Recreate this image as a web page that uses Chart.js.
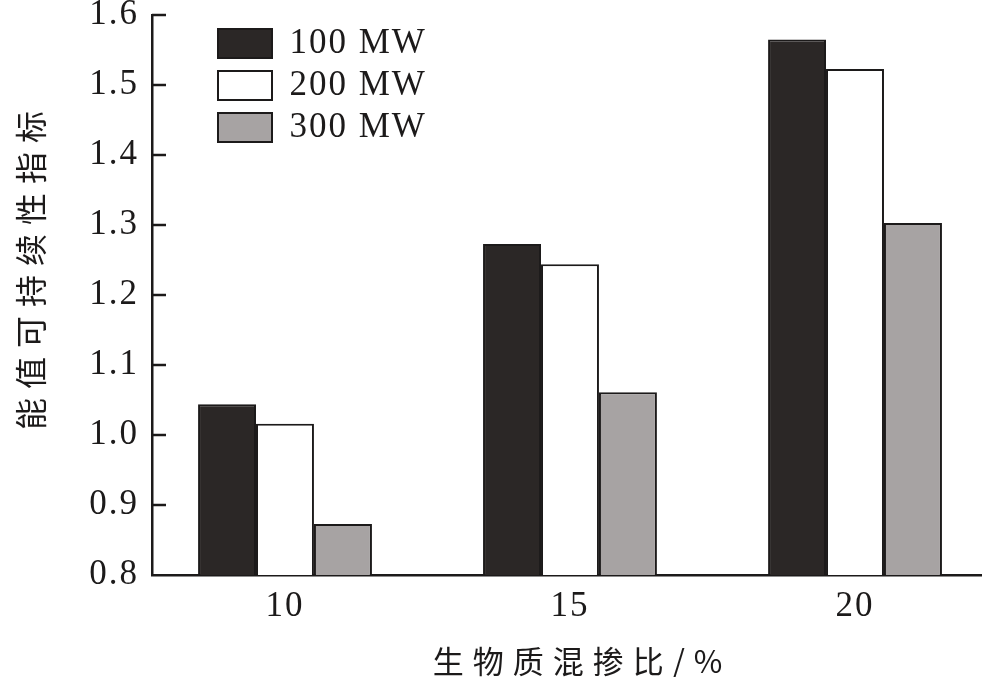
<!DOCTYPE html>
<html>
<head>
<meta charset="utf-8">
<script src="https://cdn.jsdelivr.net/npm/chart.js@4.4.1/dist/chart.umd.min.js"></script>
<style>
html,body{margin:0;padding:0;background:#fff;}
#wrap{width:982px;height:677px;}
</style>
</head>
<body>
<div id="wrap"><canvas id="c" width="982" height="677"></canvas></div>
<script>
// ---- data ----
const categories = [10, 15, 20];
const seriesLabels = ['100 MW', '200 MW', '300 MW'];
const mw100 = [1.044, 1.273, 1.565];
const mw200 = [1.016, 1.244, 1.523];
const mw300 = [0.873, 1.061, 1.303];
const yTicks = [0.8, 0.9, 1.0, 1.1, 1.2, 1.3, 1.4, 1.5, 1.6];
const xTitle = '生物质混掺比/%';
const yTitle = '能值可持续性指标';

// ---- styles ----
const INK = '#1c1a1a';
const fills = ['#2b2726', '#ffffff', '#a7a3a3'];
const serif = 'Liberation Serif';
const cjk = 'Noto Sans CJK SC';

const seriesValues = [mw100, mw200, mw300];
const datasets = seriesValues.map((vals, i) => ({
  label: seriesLabels[i],
  data: categories.map((c, j) => ({x: c, y: vals[j]})),
  backgroundColor: fills[i],
  borderColor: INK,
  borderWidth: 2,
  categoryPercentage: 0.61,
  barPercentage: 1.0
}));

function patchTitle(scale, dx, dy, spacing) {
  if (!scale || scale._patchedTitle) return;
  const orig = scale.drawTitle;
  scale.drawTitle = function () {
    const c = this.ctx;
    c.save();
    c.letterSpacing = spacing;
    c.translate(dx, dy);
    orig.apply(this, arguments);
    c.restore();
  };
  scale._patchedTitle = true;
}

const stylePlugin = {
  id: 'stylePlugin',
  beforeUpdate(chart) { chart.ctx.letterSpacing = '2px'; },
  beforeLayout(chart) {
    chart.ctx.letterSpacing = '2px';
    patchTitle(chart.scales.x, 15, 0, '9px');
    patchTitle(chart.scales.y, 0, -29, '9px');
  },
  afterLayout(chart) {
    const lg = chart.legend;
    if (lg) {
      lg.left = 211;
      lg.top = 19;
      lg.right = lg.left + lg.width;
      lg.bottom = lg.top + lg.height;
    }
  },
  beforeDraw(chart) { chart.ctx.letterSpacing = '2px'; },
  afterDraw(chart) {
    const ctx = chart.ctx;
    const s = chart.scales.y;
    const area = chart.chartArea;
    ctx.save();
    ctx.strokeStyle = INK;
    ctx.lineWidth = 2.5;
    s.ticks.forEach(t => {
      const py = s.getPixelForValue(t.value);
      if (Math.abs(py - area.bottom) < 2) return;
      ctx.beginPath();
      ctx.moveTo(area.left, py);
      ctx.lineTo(area.left + 14, py);
      ctx.stroke();
    });
    ctx.restore();
  }
};

new Chart(document.getElementById('c'), {
  type: 'bar',
  data: { datasets },
  plugins: [stylePlugin],
  options: {
    responsive: false,
    animation: false,
    devicePixelRatio: 1,
    layout: { padding: { top: 15, right: 0, bottom: 0, left: 0 } },
    plugins: {
      tooltip: { enabled: false },
      legend: {
        position: 'chartArea',
        align: 'start',
        labels: {
          font: { family: serif, size: 35, lineHeight: 1 },
          color: INK,
          boxWidth: 54,
          boxHeight: 29,
          padding: 7
        }
      }
    },
    scales: {
      x: {
        type: 'linear',
        offset: false,
        min: 7.667,
        max: 22.228,
        afterBuildTicks: s => { s.ticks = categories.map(v => ({ value: v })); },
        afterFit: s => { s.height = 102; s.paddingLeft = 0; s.paddingRight = 0; },
        ticks: {
          autoSkip: false, maxRotation: 0,
          callback: v => String(v),
          font: { family: serif, size: 35, lineHeight: 1 },
          color: INK,
          padding: 14
        },
        grid: { display: true, offset: false, drawOnChartArea: false, drawTicks: false },
        border: { color: INK, width: 2.5 },
        title: {
          display: true, text: xTitle, color: INK,
          font: { family: cjk, size: 31, lineHeight: 1 },
          padding: { top: 0, bottom: 0 }
        }
      },
      y: {
        min: 0.8,
        max: 1.6,
        afterBuildTicks: s => { s.ticks = yTicks.map(v => ({ value: v })); },
        afterFit: s => { s.width = 152; s.paddingTop = 0; s.paddingBottom = 0; },
        ticks: {
          callback: v => Number(v).toFixed(1),
          font: { family: serif, size: 35, lineHeight: 1 },
          color: INK,
          padding: 13
        },
        grid: { display: true, drawOnChartArea: false, drawTicks: false },
        border: { color: INK, width: 2.5 },
        title: {
          display: true, text: yTitle, color: INK,
          font: { family: cjk, size: 32, lineHeight: 1 },
          padding: { top: 15, bottom: 0 }
        }
      }
    }
  }
});
</script>
</body>
</html>
